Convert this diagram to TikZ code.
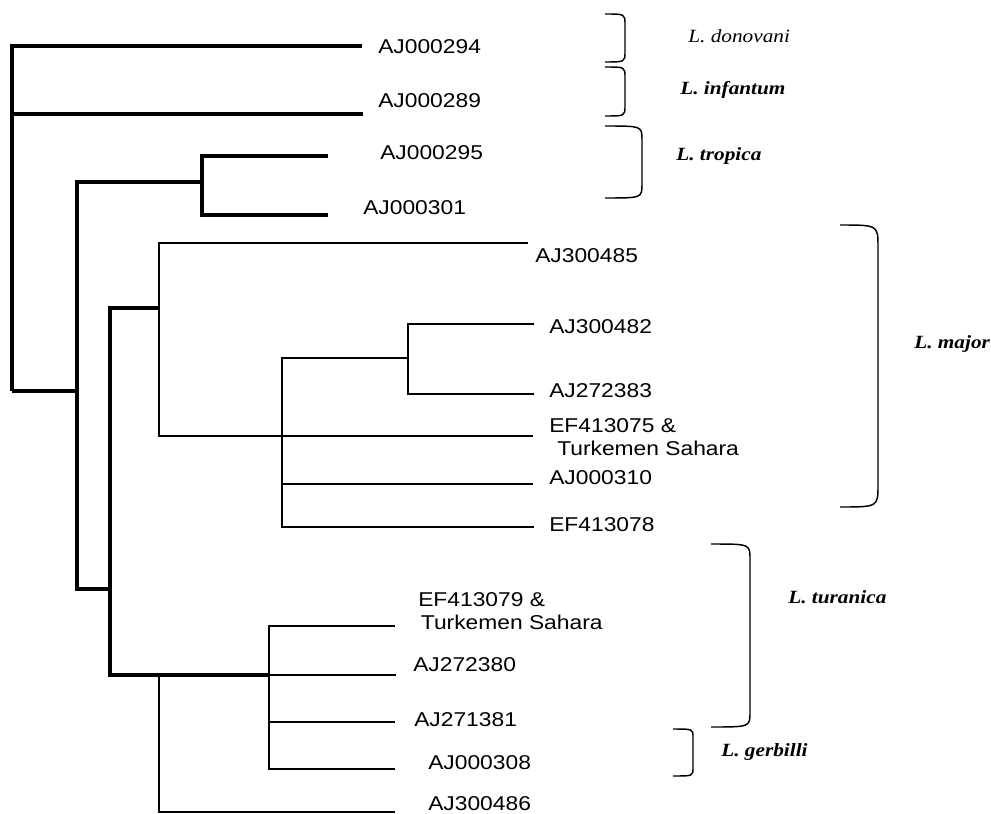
\documentclass[tikz,border=0pt]{standalone}
\usepackage{fontspec}
\newfontfamily\seqfont[FakeStretch=1.14]{Liberation Sans}
\newfontfamily\taxfont[FakeStretch=1.14]{Liberation Serif}
\usetikzlibrary{calc}
\tikzset{
  br/.style={line width=2.4pt,black},
  brt/.style={line width=1.9pt,black},
  brk/.style={line width=1.1pt,black},
  seq/.style={font=\seqfont\fontsize{15}{17.2}\selectfont,inner sep=0pt,anchor=base west},
  tax/.style={font=\taxfont\bfseries\itshape\fontsize{14}{16}\selectfont,inner sep=0pt,anchor=base west}
}
% species bracket: left x, right x, top y, bottom y, bend
\newcommand\spbrk[5]{\draw[brk] (#1,#3) .. controls (#2,#3) .. (#2,#3+#5) -- (#2,#4-#5) .. controls (#2,#4) .. (#1,#4);}

\begin{document}
\begin{tikzpicture}[x=0.75pt,y=-0.75pt]
\useasboundingbox (0,0) rectangle (991,813);
% inner nodes
\coordinate (r0) at (12,391);
\coordinate (n1) at (77,391);
\coordinate (nt) at (202,182);
\coordinate (n2) at (110,589);
\coordinate (n3) at (159,308);
\coordinate (n4) at (282,436);
\coordinate (n5) at (408,358);
\coordinate (n6) at (269,675);
\coordinate (n7) at (159,675);
% branch tips
\foreach \n/\x/\y in {294/362/46,289/363/114,295/328/156,301/328/215,485/528/243,482/534/324,383/534/394,075/533/436,310/533/484,078/534/527,079/395/626,380/396/675,381/395/722,308/395/769,486/395/812}
  \coordinate (e\n) at (\x,\y);
% branches
\draw[br] (r0) |- (e294) (r0) |- (e289) (r0) -- (n1);
\draw[br] (n1) |- (nt) (n1) |- (n2);
\draw[br] (nt) |- (e295) (nt) |- (e301);
\draw[br] (n2) |- (n3) (n2) |- (n6);
\draw[brt] (n3) |- (e485) (n3) |- (e075);
\draw[brt] (n4) |- (n5) (n4) |- (e310) (n4) |- (e078);
\draw[brt] (n5) |- (e482) (n5) |- (e383);
\draw[brt] (n6) |- (e079) (n6) -- (e380) (n6) |- (e381) (n6) |- (e308);
\draw[brt] (n7) |- (e486);
% accession labels
\foreach \n/\x/\y/\t in {294/378/54/AJ000294,289/378/108/AJ000289,295/380/160/AJ000295,301/363/214/AJ000301,485/535/262/AJ300485,482/549/333/AJ300482,383/549/397/AJ272383,310/549/484/AJ000310,078/549/531/EF413078,380/413/671/AJ272380,381/414/726/AJ271381,308/428/769/AJ000308,486/428/810/AJ300486}
  \node[seq] (l\n) at (\x,\y) {\t};
\node[seq,anchor=west,align=left] (l075) at (549,437) {EF413075 \&\\\hspace{6pt}Turkemen Sahara};
\node[seq,anchor=west,align=left] (l079) at (418,611) {EF413079 \&\\\hspace{2pt}Turkemen Sahara};
% species
\spbrk{605}{625}{14}{62}{10}
\spbrk{605}{625}{67}{116}{10}
\spbrk{605}{642}{126}{198}{14}
\spbrk{840}{878}{225}{507}{22}
\spbrk{711}{750}{544}{727}{15}
\spbrk{673}{693}{729}{776}{8}
\node[tax,font=\taxfont\itshape\fontsize{14}{16}\selectfont] (sdon) at (688,43) {L. donovani};
\node[tax] (sinf) at (680,95) {L. infantum};
\node[tax] (strop) at (676,161) {L. tropica};
\node[tax] (smaj) at (914,348) {L. major};
\node[tax] (stur) at (788,603) {L. turanica};
\node[tax] (sger) at (721,756) {L. gerbilli};
\end{tikzpicture}
\end{document}
